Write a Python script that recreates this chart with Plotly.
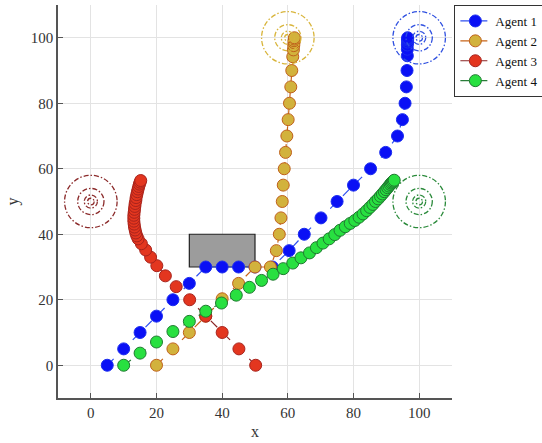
import plotly.graph_objects as go

# ---------------- data ----------------
agent_names = ["Agent 1", "Agent 2", "Agent 3", "Agent 4"]

a1_x = [5, 10, 15, 20, 25, 30, 35, 40, 45, 50, 55.3, 60.4, 65, 70.1, 75, 80, 85.2, 89.8, 93.4, 94.9, 95.7,
        96.1, 96.3, 96.4, 96.4, 96.4, 96.5, 96.5, 96.5, 96.5]
a1_y = [0, 5, 10, 15, 20, 25, 30, 30, 30, 30, 30, 35, 40, 45, 50, 55, 60, 65, 70, 75, 80,
        85, 90, 94.5, 96.5, 97.8, 98.7, 99.3, 99.7, 100]

a2_x = [20, 25, 30, 35, 40, 45, 50, 54.7, 56.5, 57.4, 57.9, 58.3, 58.6, 58.9, 59.3, 59.7, 60.1, 60.5,
        60.9, 61.2, 61.5, 61.7, 61.8, 61.9, 61.9, 62.0, 62.0]
a2_y = [0, 5, 10, 15, 20.3, 25, 30, 30, 35, 40, 45, 50, 55, 60, 65, 70, 75, 80,
        85, 90, 94.2, 96.3, 97.6, 98.5, 99.1, 99.6, 100]

a3_x = [50.2, 45.1, 40, 35, 30.1, 26, 22.7, 20.1, 18.2, 16.7, 15.4, 14.4, 14.0, 13.7, 13.5, 13.3, 13.2,
        13.1, 13.1, 13.1, 13.2, 13.3, 13.4, 13.5, 13.7, 13.8, 14.0, 14.2, 14.4, 14.6, 14.8, 15.0, 15.2]
a3_y = [0, 5, 10, 15, 20, 24, 27.3, 30.4, 33, 35.2, 37.1, 38.6, 39.5, 40.4, 41.3, 42.2, 43.1,
        44, 44.9, 45.8, 46.7, 47.6, 48.5, 49.4, 50.3, 51.2, 52.1, 53, 53.8, 54.6, 55.3, 55.9, 56.4]

a4_x = [10, 15, 20, 25, 30, 35, 39.8, 44.3, 48.3, 52, 55.5, 58.6, 61.5, 64, 66.6, 68.7, 70.7, 72.6,
        74.3, 75.9, 77.5, 79, 80.4, 81.7, 82.9, 84, 85, 85.9, 86.7, 87.5, 88.2, 88.8, 89.4, 89.9,
        90.4, 90.8, 91.2, 91.5, 91.8, 92.1, 92.4]
a4_y = [0, 3.7, 7.1, 10.3, 13.4, 16.5, 19, 21.4, 23.8, 25.9, 27.8, 29.5, 31.2, 32.8, 34.3, 35.9, 37.3, 38.6,
        39.9, 41.2, 42.3, 43.3, 44.2, 45.2, 46.2, 47.2, 48.2, 49.1, 50, 50.8, 51.6, 52.3, 53, 53.6,
        54.2, 54.7, 55.2, 55.6, 55.9, 56.2, 56.5]

target_x = [100, 60, 0, 100]
target_y = [100, 100, 50, 50]
target_radii = [8, 4, 2, 1]

obstacle_x = [30, 50]
obstacle_y = [30, 40]

ticks = [0, 20, 40, 60, 80, 100]

# ---------------- styles ----------------
fill_colors = ["#0a10f5", "#d2b23c", "#e3361f", "#28e040"]
edge_colors = ["#1a2cf0", "#c0601a", "#a8231c", "#1f7a30"]
line_colors = ["#3050f0", "#c86418", "#8b2525", "#2a7d3a"]
circle_colors = ["#2f50e0", "#d8b43a", "#8b2a2a", "#2a8a3a"]

FONT = "Liberation Serif"

fig = go.Figure()

xs = [a1_x, a2_x, a3_x, a4_x]
ys = [a1_y, a2_y, a3_y, a4_y]
for i in range(4):
    fig.add_trace(go.Scatter(
        x=xs[i], y=ys[i], mode="lines+markers", name=agent_names[i],
        line=dict(color=line_colors[i], width=1.2, dash="dash"),
        marker=dict(size=12, color=fill_colors[i],
                    line=dict(color=edge_colors[i], width=1)),
    ))

# target circles
for i in range(4):
    for r in target_radii:
        fig.add_shape(type="circle", xref="x", yref="y",
                      x0=target_x[i] - r, x1=target_x[i] + r,
                      y0=target_y[i] - r, y1=target_y[i] + r,
                      line=dict(color=circle_colors[i], width=1.3, dash="5px,2px,1.5px,2px"),
                      layer="above")

# obstacle
fig.add_shape(type="rect", xref="x", yref="y",
              x0=obstacle_x[0], x1=obstacle_x[1], y0=obstacle_y[0], y1=obstacle_y[1],
              fillcolor="#9c9c9c", line=dict(color="#222222", width=1.2), layer="between")

axis_common = dict(
    tickvals=ticks, showgrid=True, gridcolor="#e3e3e3", gridwidth=1,
    zeroline=False, showline=True, linecolor="#555555", linewidth=1.5,
    ticks="inside", ticklen=5, tickcolor="#555555", tickwidth=1,
    tickfont=dict(family=FONT, size=15, color="#333333"),
    mirror=False,
)

fig.update_layout(
    width=542, height=443,
    margin=dict(l=58, r=90, t=5, b=45, autoexpand=False),
    plot_bgcolor="white", paper_bgcolor="white",
    xaxis=dict(range=[-10, 110], title=dict(text="x", font=dict(family=FONT, size=16, color="#333333"), standoff=6), **axis_common),
    yaxis=dict(range=[-10, 110], title=dict(text="y", font=dict(family=FONT, size=16, color="#333333"), standoff=8), **axis_common),
    legend=dict(x=1.006, y=1.0, xanchor="left", yanchor="top",
                font=dict(family=FONT, size=13, color="#111111"),
                bgcolor="white", bordercolor="#333333", borderwidth=1,
                tracegroupgap=0, itemwidth=30),
    showlegend=True,
)

fig.write_html("out.html")
